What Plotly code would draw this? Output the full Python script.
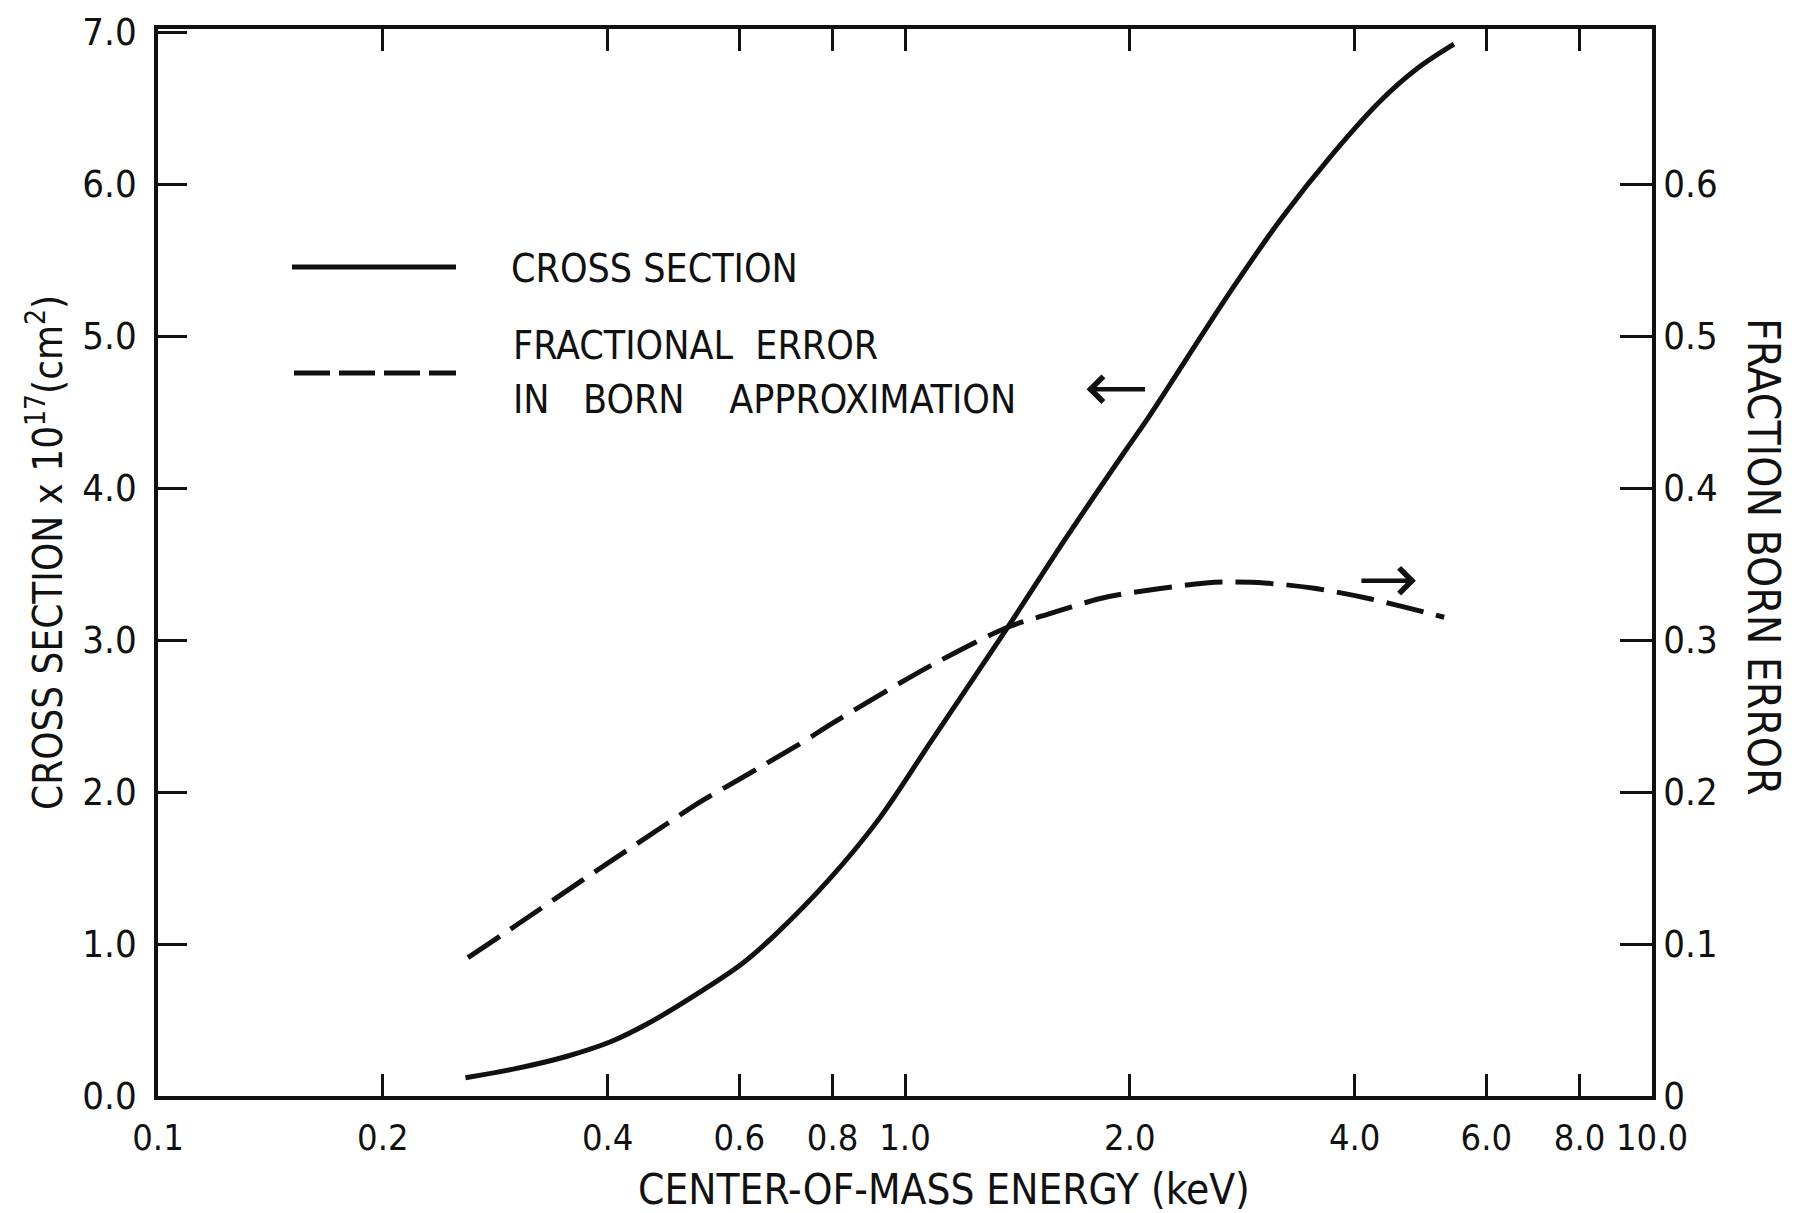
import math
import plotly.graph_objects as go

# ---- data ----
energy_cs = [0.258, 0.301, 0.352, 0.405, 0.454, 0.530, 0.605, 0.670, 0.790, 0.922,
             1.086, 1.375, 1.637, 1.969, 2.115, 2.733, 3.187, 3.755, 4.335, 4.85, 5.43]
cross_section = [0.12, 0.18, 0.26, 0.36, 0.48, 0.68, 0.87, 1.06, 1.42, 1.82,
                 2.34, 3.09, 3.66, 4.24, 4.46, 5.30, 5.77, 6.21, 6.55, 6.76, 6.92]

energy_err = [0.260, 0.301, 0.370, 0.483, 0.530, 0.618, 0.736, 0.798, 1.086, 1.375,
              1.555, 1.814, 1.969, 2.466, 2.597, 3.028, 3.532, 4.205, 5.27]
born_error = [0.091, 0.112, 0.142, 0.180, 0.193, 0.212, 0.234, 0.245, 0.2835, 0.3086,
              0.317, 0.327, 0.3305, 0.337, 0.338, 0.3375, 0.334, 0.327, 0.315]

x_tickvals = [0.1, 0.2, 0.4, 0.6, 0.8, 1.0, 2.0, 4.0, 6.0, 8.0, 10.0]
x_ticktext = ["0.1", "0.2", "0.4", "0.6", "0.8", "1.0", "2.0", "4.0", "6.0", "8.0", "10.0"]
y_tickvals = [0, 1, 2, 3, 4, 5, 6, 7]
y_ticktext = ["0.0", "1.0", "2.0", "3.0", "4.0", "5.0", "6.0", "7.0"]
y2_tickvals = [0, 0.1, 0.2, 0.3, 0.4, 0.5, 0.6]
y2_ticktext = ["0", "0.1", "0.2", "0.3", "0.4", "0.5", "0.6"]

NB = "\u00a0"
legend_labels = ["CROSS SECTION", "FRACTIONAL" + NB * 2 + "ERROR",
                 "IN" + NB * 3 + "BORN" + NB * 4 + "APPROXIMATION"]
x_title = "CENTER-OF-MASS ENERGY (keV)"
y_title = "CROSS SECTION x 10<sup>17</sup>(cm<sup>2</sup>)"
y2_title = "FRACTION BORN ERROR"

# arrow anchors (energy, value) -- pointing to the axis each curve uses
arrow_left_at = (1.75, 4.65)
arrow_right_at = (4.83, 3.39)

FONT = "Liberation Sans Narrow, DejaVu Sans Condensed, Roboto Condensed, Liberation Sans, sans-serif"
BLACK = "#111111"

fig = go.Figure()
fig.add_trace(go.Scatter(
    x=energy_cs, y=cross_section, mode="lines", yaxis="y", xaxis="x",
    line=dict(color=BLACK, width=5, shape="spline", smoothing=1.0),
    showlegend=False, hoverinfo="skip"))
fig.add_trace(go.Scatter(
    x=energy_err, y=born_error, mode="lines", yaxis="y2", xaxis="x",
    line=dict(color=BLACK, width=5, dash="38px,13px", shape="spline", smoothing=0.9),
    showlegend=False, hoverinfo="skip"))

axis_common = dict(showgrid=False, zeroline=False, linecolor=BLACK, tickcolor=BLACK,
                   tickwidth=3, ticks="inside")

# page body has an 8px margin: place the plot area so it lands where the reference has it
OFF = 8
W, H = 1796, 1213
SL, ST, SR, SB = 158, 29, 1652, 1096       # plot area in screen pixels
pw, ph = SR - SL, SB - ST
L, T = SL - OFF, ST - OFF
R, B = W - (SR - OFF), H - (SB - OFF)

def px(xs):
    return (xs - SL) / pw

def py(ys):
    return (SB - ys) / ph

fig.update_layout(
    width=W, height=H,
    margin=dict(l=L, r=R, t=T, b=B, autoexpand=False),
    paper_bgcolor="white", plot_bgcolor="white",
    font=dict(family=FONT, color=BLACK, size=38),
    xaxis=dict(type="log", range=[-1, 1], tickvals=x_tickvals, ticktext=x_ticktext,
               ticklen=22, showline=True, linewidth=4, mirror="ticks",
               tickfont=dict(size=36), ticklabelstandoff=7, **axis_common),
    xaxis3=dict(type="log", range=[-1, 1], overlaying="x", anchor="y", side="bottom",
                tickvals=[1.0], ticklen=44, showticklabels=False, showline=False,
                **axis_common),
    yaxis=dict(range=[0, 7.02], tickvals=y_tickvals, ticktext=y_ticktext,
               ticklen=29, showline=True, linewidth=3.5,
               tickfont=dict(size=38), ticklabelstandoff=10, **axis_common),
    yaxis2=dict(range=[0, 0.702], overlaying="y", side="right", anchor="x",
                tickvals=y2_tickvals, ticktext=y2_ticktext,
                ticklen=32, showline=True, linewidth=3.5,
                tickfont=dict(size=38), ticklabelstandoff=0, **axis_common),
)

# legend samples (drawn inside the plot area like the original)
fig.add_shape(type="line", xref="paper", yref="paper", x0=px(292), x1=px(456),
              y0=py(267), y1=py(267), line=dict(color=BLACK, width=5))
fig.add_shape(type="line", xref="paper", yref="paper", x0=px(294), x1=px(456),
              y0=py(373), y1=py(373), line=dict(color=BLACK, width=5, dash="36px,9px"))

ann = []
ann.append(dict(text=legend_labels[0], xref="paper", yref="paper", x=px(509), y=py(268),
                xanchor="left", yanchor="middle", showarrow=False, font=dict(size=39)))
ann.append(dict(text=legend_labels[1], xref="paper", yref="paper", x=px(511), y=py(346),
                xanchor="left", yanchor="middle", showarrow=False, font=dict(size=39)))
ann.append(dict(text=legend_labels[2], xref="paper", yref="paper", x=px(511), y=py(399),
                xanchor="left", yanchor="middle", showarrow=False, font=dict(size=39)))
# axis titles
ann.append(dict(text=x_title, xref="paper", yref="paper", x=px(944), y=py(1189),
                xanchor="center", yanchor="middle", showarrow=False, font=dict(size=42)))
ann.append(dict(text=y_title, xref="paper", yref="paper", x=px(45), y=py(553),
                xanchor="center", yanchor="middle", textangle=-90, showarrow=False,
                font=dict(size=40)))
ann.append(dict(text=y2_title, xref="paper", yref="paper", x=px(1764), y=py(556),
                xanchor="center", yanchor="middle", textangle=90, showarrow=False,
                font=dict(size=44)))
# arrows
ann.append(dict(text="", xref="x", yref="y", x=math.log10(arrow_left_at[0]), y=arrow_left_at[1],
                ax=60, ay=0, axref="pixel", ayref="pixel", showarrow=True,
                arrowhead=4, arrowsize=1.1, arrowwidth=4.5, arrowcolor=BLACK))
ann.append(dict(text="", xref="x", yref="y", x=math.log10(arrow_right_at[0]), y=arrow_right_at[1],
                ax=-56, ay=0, axref="pixel", ayref="pixel", showarrow=True,
                arrowhead=4, arrowsize=1.1, arrowwidth=4.5, arrowcolor=BLACK))
fig.update_layout(annotations=ann)

fig.write_html("out.html")
